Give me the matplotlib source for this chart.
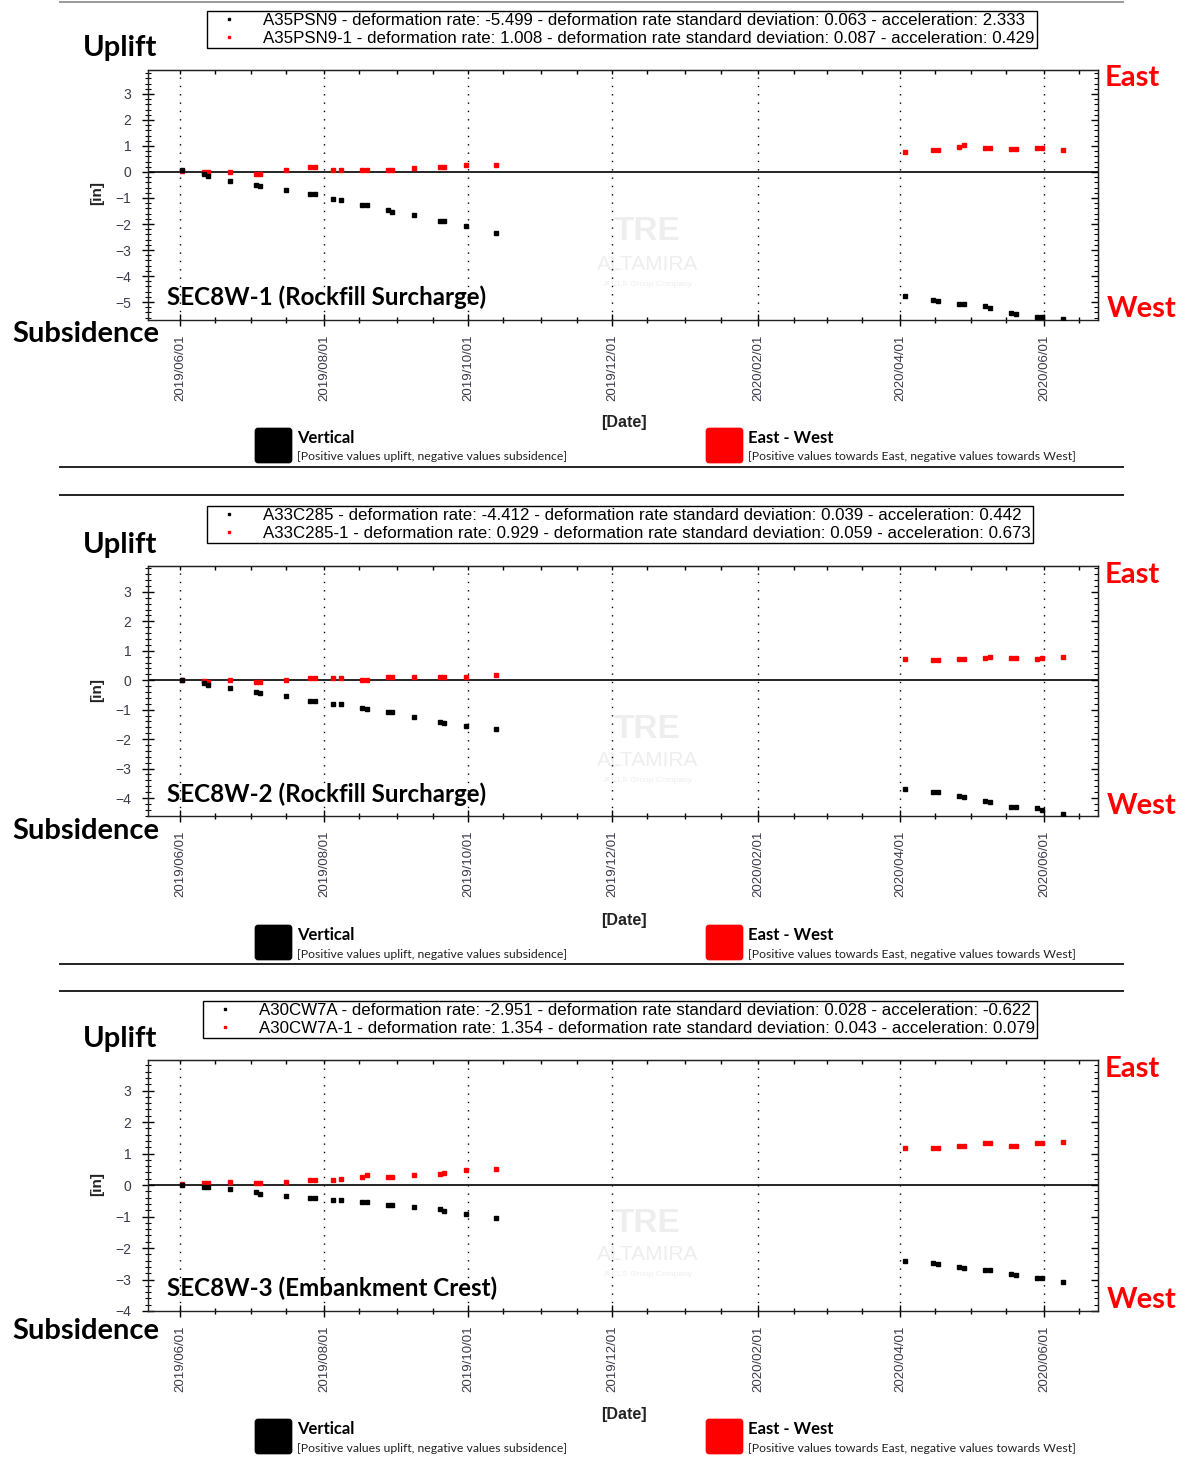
import matplotlib
matplotlib.use('Agg')
import matplotlib.pyplot as plt
import matplotlib.dates as mdates
import matplotlib.transforms as mtransforms
from matplotlib.ticker import MultipleLocator
from matplotlib.patches import FancyBboxPatch
from matplotlib.lines import Line2D
from datetime import datetime

W, H = 1181, 1459

# acquisition dates (shared by all three points)
dates = ['2019-06-02', '2019-06-11', '2019-06-13', '2019-06-22', '2019-07-03', '2019-07-05',
         '2019-07-16', '2019-07-26', '2019-07-28', '2019-08-05', '2019-08-08', '2019-08-17',
         '2019-08-19', '2019-08-28', '2019-08-30', '2019-09-08', '2019-09-19', '2019-09-21',
         '2019-09-30', '2019-10-13',
         '2020-04-03', '2020-04-15', '2020-04-17', '2020-04-26', '2020-04-28', '2020-05-07',
         '2020-05-09', '2020-05-18', '2020-05-20', '2020-05-29', '2020-05-31', '2020-06-09']

sec1_vertical = [0.06, -0.06, -0.15, -0.34, -0.49, -0.54, -0.68, -0.83, -0.83, -1.03, -1.09, -1.27,
                 -1.27, -1.47, -1.52, -1.66, -1.90, -1.90, -2.09, -2.34,
                 -4.78, -4.92, -4.97, -5.08, -5.08, -5.17, -5.22, -5.41, -5.47, -5.56, -5.56, -5.67]
sec1_east_west = [0.02, 0.0, 0.0, 0.0, -0.06, -0.06, 0.09, 0.19, 0.19, 0.09, 0.09, 0.09,
                  0.09, 0.09, 0.09, 0.15, 0.19, 0.19, 0.25, 0.25,
                  0.78, 0.83, 0.83, 0.97, 1.02, 0.93, 0.93, 0.88, 0.88, 0.93, 0.93, 0.83]

sec2_vertical = [0.0, -0.08, -0.15, -0.26, -0.40, -0.44, -0.55, -0.69, -0.69, -0.81, -0.81, -0.95,
                 -0.99, -1.07, -1.07, -1.24, -1.41, -1.46, -1.55, -1.67,
                 -3.71, -3.81, -3.81, -3.93, -3.98, -4.10, -4.15, -4.32, -4.32, -4.35, -4.41, -4.55]
sec2_east_west = [0.0, -0.04, -0.06, 0.0, -0.07, -0.05, 0.0, 0.06, 0.06, 0.06, 0.06, 0.0,
                  0.0, 0.12, 0.12, 0.12, 0.12, 0.12, 0.12, 0.17,
                  0.72, 0.68, 0.68, 0.72, 0.72, 0.76, 0.80, 0.76, 0.76, 0.72, 0.76, 0.80]

sec3_vertical = [-0.01, -0.05, -0.05, -0.14, -0.21, -0.27, -0.34, -0.41, -0.41, -0.46, -0.46, -0.53,
                 -0.53, -0.65, -0.65, -0.70, -0.77, -0.82, -0.93, -1.06,
                 -2.42, -2.46, -2.51, -2.59, -2.63, -2.70, -2.70, -2.82, -2.87, -2.95, -2.95, -3.07]
sec3_east_west = [0.02, 0.06, 0.06, 0.11, 0.06, 0.06, 0.11, 0.15, 0.15, 0.15, 0.19, 0.27,
                  0.31, 0.27, 0.27, 0.31, 0.35, 0.39, 0.47, 0.51,
                  1.16, 1.16, 1.16, 1.23, 1.23, 1.32, 1.32, 1.23, 1.23, 1.32, 1.32, 1.36]

titles = ['SEC8W-1 (Rockfill Surcharge)', 'SEC8W-2 (Rockfill Surcharge)', 'SEC8W-3 (Embankment Crest)']
vertical_labels = [
    'A35PSN9 - deformation rate: -5.499 - deformation rate standard deviation: 0.063 - acceleration: 2.333',
    'A33C285 - deformation rate: -4.412 - deformation rate standard deviation: 0.039 - acceleration: 0.442',
    'A30CW7A - deformation rate: -2.951 - deformation rate standard deviation: 0.028 - acceleration: -0.622']
east_west_labels = [
    'A35PSN9-1 - deformation rate: 1.008 - deformation rate standard deviation: 0.087 - acceleration: 0.429',
    'A33C285-1 - deformation rate: 0.929 - deformation rate standard deviation: 0.059 - acceleration: 0.673',
    'A30CW7A-1 - deformation rate: 1.354 - deformation rate standard deviation: 0.043 - acceleration: 0.079']
vertical_series = [sec1_vertical, sec2_vertical, sec3_vertical]
east_west_series = [sec1_east_west, sec2_east_west, sec3_east_west]

# layout (pixels from top-left)
axes_rows = [(70, 320), (566, 816), (1060, 1311)]
ylims = [(-5.69, 3.92), (-4.61, 3.88), (-4.0, 3.97)]
legend_pos = [(207, 11), (207, 506), (203, 1001)]
offsets = [0, 497, 991]
subs_y = [334, 831, 1331]

fig = plt.figure(figsize=(W / 100, H / 100), dpi=100)
px = mtransforms.Affine2D().scale(1 / 100, -1 / 100).translate(0, H / 100) + fig.dpi_scale_trans

x = mdates.date2num([datetime.strptime(d, '%Y-%m-%d') for d in dates])
x0 = mdates.date2num(datetime(2019, 5, 18, 10))
x1 = mdates.date2num(datetime(2020, 6, 23, 22))

lato = 'Lato'
arial = 'Liberation Sans'
tick_col = '#3a3a4a'
wm = '#eeeeee'

for i in range(3):
    top, bot = axes_rows[i]
    dy = offsets[i]
    ax = fig.add_axes([148 / W, 1 - bot / H, 950 / W, (bot - top) / H])
    hv, = ax.plot(x, vertical_series[i], 's', ms=3, color='black', ls='none', zorder=4,
                  label=vertical_labels[i])
    he, = ax.plot(x, east_west_series[i], 's', ms=3, color='red', ls='none', zorder=3,
                  label=east_west_labels[i])
    ax.axhline(0, color='black', lw=1.2, zorder=2)
    ax.set_xlim(x0, x1)
    ax.set_ylim(*ylims[i])

    ax.xaxis.set_major_locator(mdates.MonthLocator(bymonth=[2, 4, 6, 8, 10, 12], bymonthday=1))
    ax.xaxis.set_minor_locator(mdates.MonthLocator(bymonthday=[1, 16]))
    ax.xaxis.set_major_formatter(mdates.DateFormatter('%Y/%m/%d'))
    ax.yaxis.set_major_locator(MultipleLocator(1))
    ax.yaxis.set_minor_locator(MultipleLocator(0.2))
    ax.grid(axis='x', which='major', color='black', lw=1, ls=(0, (1, 5)))

    ax.tick_params(axis='x', which='major', direction='inout', length=9, width=1, pad=6,
                   labelsize=9.5, labelcolor=tick_col, labelrotation=90)
    ax.tick_params(axis='x', which='minor', direction='inout', length=5, width=1)
    ax.tick_params(axis='y', which='major', direction='inout', length=8, width=1, pad=8,
                   labelsize=10, labelcolor=tick_col)
    ax.tick_params(axis='y', which='minor', direction='inout', length=4.5, width=0.8)
    for lab in ax.get_xticklabels() + ax.get_yticklabels():
        lab.set_fontfamily(arial)
    for sp in ax.spines.values():
        sp.set_linewidth(1)
        sp.set_color('#222222')

    sx = ax.secondary_xaxis('top')
    sx.xaxis.set_major_locator(mdates.MonthLocator(bymonthday=[1, 16]))
    sx.tick_params(direction='in', length=3, width=1, labeltop=False)
    sy = ax.secondary_yaxis('right')
    sy.yaxis.set_major_locator(MultipleLocator(1))
    sy.yaxis.set_minor_locator(MultipleLocator(0.2))
    sy.tick_params(which='major', direction='in', length=5, width=1, labelright=False)
    sy.tick_params(which='minor', direction='in', length=3, width=0.8)

    leg = ax.legend(handles=[hv, he], loc='upper left', bbox_to_anchor=legend_pos[i],
                    bbox_transform=px, prop={'family': arial, 'size': 12.2}, frameon=True,
                    fancybox=False, edgecolor='black', framealpha=1, borderpad=0.12,
                    labelspacing=0.2, handlelength=2.3, handletextpad=0.9,
                    borderaxespad=0, markerscale=0.7, numpoints=1)
    leg.get_frame().set_linewidth(1)

    # faint watermark
    ax.text(647, 232 + dy, 'TRE', transform=px, fontsize=24, fontweight='bold', family=arial,
            color=wm, ha='center', va='center', zorder=0.5)
    ax.text(648, 264 + dy, 'ALTAMIRA', transform=px, fontsize=15, family=arial,
            color=wm, ha='center', va='center', zorder=0.5)
    ax.text(648, 284 + dy, 'A CLS Group Company', transform=px, fontsize=6, family=arial,
            color=wm, ha='center', va='center', zorder=0.5)

    fig.text(120, 48 + dy, 'Uplift', transform=px, fontsize=21, fontweight='bold', family=lato,
             ha='center', va='center')
    fig.text(86, subs_y[i], 'Subsidence', transform=px, fontsize=21, fontweight='bold', family=lato,
             ha='center', va='center')
    fig.text(1132, 78 + dy, 'East', transform=px, fontsize=21, fontweight='bold', family=lato,
             color='red', ha='center', va='center')
    fig.text(1142, 309 + dy, 'West', transform=px, fontsize=21, fontweight='bold', family=lato,
             color='red', ha='center', va='center')
    fig.text(167, 297 + dy, titles[i], transform=px, fontsize=17.4, fontweight='bold', family=lato,
             ha='left', va='center')
    fig.text(97, 193 + dy, '[in]', transform=px, fontsize=11, fontweight='bold', family=arial,
             rotation=90, ha='center', va='center', color='#222222')
    fig.text(624, 423 + dy, '[Date]', transform=px, fontsize=11.5, fontweight='bold', family=arial,
             ha='center', va='center', color='#222222')

    # category key below each panel
    for bx, col, name, desc in [(255, 'black', 'Vertical',
                                 '[Positive values uplift, negative values subsidence]'),
                                (706, 'red', 'East - West',
                                 '[Positive values towards East, negative values towards West]')]:
        fig.add_artist(FancyBboxPatch((bx, 428 + dy), 37, 35, boxstyle='round,pad=0,rounding_size=3',
                                      transform=px, facecolor=col, edgecolor=col, lw=0.5))
        fig.text(bx + 42, 438 + dy, name, transform=px, fontsize=12, fontweight='bold', family=lato,
                 ha='left', va='center')
        fig.text(bx + 42, 457 + dy, desc, transform=px, fontsize=8.85, family=lato,
                 ha='left', va='center', color='#222222')

# panel separators
for yy, col in [(1.5, '#999999'), (467, '#222222'), (495, '#222222'), (964, '#222222'), (991, '#222222')]:
    fig.add_artist(Line2D([60, 1123], [yy, yy], transform=px, color=col, lw=1.4))

fig.savefig('out.png', dpi=100)
